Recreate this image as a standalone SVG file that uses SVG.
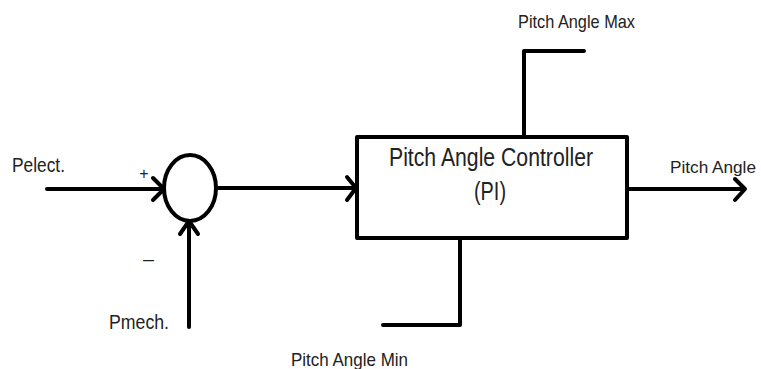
<svg xmlns="http://www.w3.org/2000/svg" width="761" height="369" viewBox="0 0 761 369">
<style>
.ln{fill:none;stroke:#000;stroke-width:4;stroke-linecap:round;stroke-linejoin:round}
.t{font-family:"Liberation Sans",Arial,sans-serif;fill:#222}
</style>
<rect width="761" height="369" fill="#fff"/>
<g id="connectors">
<path class="ln" d="M47,189 H163"/>
<path class="ln" d="M153,178 L164,189 L153,200"/>
<path class="ln" d="M189,327 V222"/>
<path class="ln" d="M180,234 L189,221 L198,234"/>
<path class="ln" d="M218,188 H355"/>
<path class="ln" d="M347,177 L356,188 L347,200"/>
<path class="ln" d="M627,189 H744"/>
<path class="ln" d="M735,179 L745,189 L735,200"/>
<path class="ln" d="M524,137 V51 H584"/>
<path class="ln" d="M460,238 V325 H383"/>
</g>
<g id="sum">
<ellipse class="ln" cx="190" cy="188" rx="26" ry="33"/>
<text class="t" x="144" y="179" font-size="16" text-anchor="middle">+</text>
<text class="t" x="143" y="265" font-size="16" textLength="11" lengthAdjust="spacingAndGlyphs">–</text>
</g>
<g id="controller">
<rect class="ln" x="357" y="137" width="270" height="101"/>
<text class="t" x="389" y="166" font-size="25" textLength="204" lengthAdjust="spacingAndGlyphs">Pitch Angle Controller</text>
<text class="t" x="474" y="200" font-size="25" textLength="32" lengthAdjust="spacingAndGlyphs">(PI)</text>
</g>
<g id="labels">
<text class="t" x="12" y="172" font-size="21" textLength="53" lengthAdjust="spacingAndGlyphs">Pelect.</text>
<text class="t" x="109" y="329" font-size="21" textLength="60" lengthAdjust="spacingAndGlyphs">Pmech.</text>
<text class="t" x="518" y="28" font-size="19" textLength="117" lengthAdjust="spacingAndGlyphs">Pitch Angle Max</text>
<text class="t" x="291" y="366" font-size="19" textLength="117" lengthAdjust="spacingAndGlyphs">Pitch Angle Min</text>
<text class="t" x="670" y="173" font-size="17" textLength="86" lengthAdjust="spacingAndGlyphs">Pitch Angle</text>
</g>
</svg>
